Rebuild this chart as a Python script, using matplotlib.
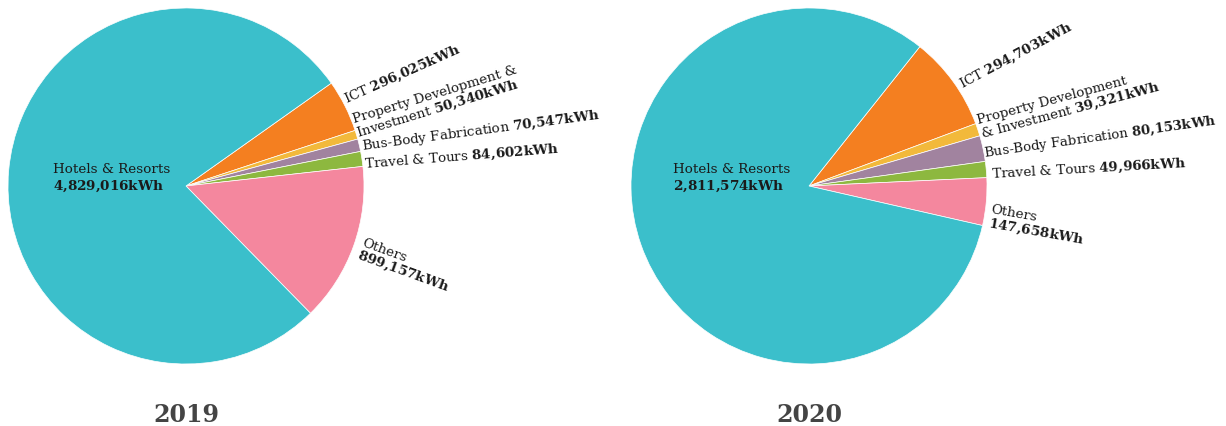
import matplotlib
matplotlib.use("Agg")
import matplotlib.pyplot as plt

plt.rcParams['font.family'] = ['DejaVu Serif']
plt.rcParams['mathtext.fontset'] = 'custom'
plt.rcParams['mathtext.rm'] = 'DejaVu Serif'
plt.rcParams['mathtext.bf'] = 'DejaVu Serif:bold'
plt.rcParams['mathtext.it'] = 'DejaVu Serif:italic'

categories = ["ICT", "Property Development & Investment", "Bus-Body Fabrication",
              "Travel & Tours", "Others", "Hotels & Resorts"]
values_2019 = [296025, 50340, 70547, 84602, 899157, 4829016]
values_2020 = [294703, 39321, 80153, 49966, 147658, 2811574]
years = ["2019", "2020"]

colors = ["#F47F20", "#F2B93B", "#A1839F", "#8DB83F", "#F4879E", "#3BBFCB"]

W, H = 1226, 427
fig = plt.figure(figsize=(W / 100, H / 100), dpi=100)

R = 178


def fmt(v):
    return "{:,}".format(v).replace(",", "{,}") + "kWh"


def bold(v):
    return r"$\bf{" + fmt(v) + "}$"


# layout per chart: text lines template, anchor of last line baseline (dx, dy px from centre),
# rotation, line spacing, font size
layouts = [
    dict(cx=186, cy=187, start=35.3,
         labels=[
             (["ICT {v}"], (160, 84), 24, 1.0, 9.7),
             (["Property Development &", "Investment {v}"], (172, 50), 17, 1.0, 9.7),
             (["Bus-Body Fabrication {v}"], (176, 37), 7.5, 1.0, 9.7),
             (["Travel & Tours {v}"], (179, 19), 4.5, 1.0, 9.7),
             (["Others", "{v}"], (170, -72), -20, 0.95, 9.7),
             (["Hotels & Resorts", "{v}"], (-133, 0), 0, 1.25, 9.7),
         ]),
    dict(cx=809, cy=187, start=51.5,
         labels=[
             (["ICT {v}"], (153, 99), 28, 1.0, 9.7),
             (["Property Development", "& Investment {v}"], (173, 49), 15, 1.0, 9.7),
             (["Bus-Body Fabrication {v}"], (175, 30), 8, 1.0, 9.5),
             (["Travel & Tours {v}"], (183, 9), 3.2, 1.0, 9.7),
             (["Others", "{v}"], (179, -40), -10, 0.95, 9.7),
             (["Hotels & Resorts", "{v}"], (-136, 0), 0, 1.25, 9.7),
         ]),
]

for vals, year, lay in zip([values_2019, values_2020], years, layouts):
    ax = fig.add_axes([(lay['cx'] - R) / W, (H - lay['cy'] - R) / H, 2 * R / W, 2 * R / H])
    ax.pie(vals, colors=colors, startangle=lay['start'], counterclock=False,
           radius=1.0, wedgeprops=dict(edgecolor='white', linewidth=0.5))
    ax.set_xlim(-1, 1)
    ax.set_ylim(-1, 1)
    ax.set_aspect('equal')
    ax.axis('off')
    for v, (lines, (dx, dy), rot, ls, fs) in zip(vals, lay['labels']):
        txt = "\n".join(l.replace("{v}", bold(v)) for l in lines)
        ax.text(dx / R, dy / R, txt, fontsize=fs, color='#1a1a1a',
                rotation=rot, rotation_mode='anchor', ha='left', va='baseline',
                linespacing=ls, clip_on=False)
    fig.text(lay['cx'] / W, (H - 422) / H, year, ha='center', va='baseline',
             fontsize=17, fontweight='bold', color='#444444')

fig.savefig("out.png", dpi=100)
